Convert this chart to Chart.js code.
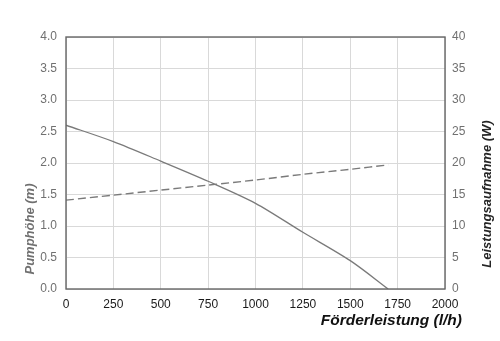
<!DOCTYPE html>
<html>
<head>
<meta charset="utf-8">
<script src="https://cdn.jsdelivr.net/npm/chart.js@4"></script>
<style>
  html, body { margin: 0; padding: 0; background: #ffffff; }
  #wrap { width: 500px; height: 341px; position: relative; }
</style>
</head>
<body>
<div id="wrap"><canvas id="c" width="500" height="341"></canvas></div>
<script>
// ---- data ----
const flowHead   = [0, 250, 500, 750, 1000, 1250, 1500, 1700];          // l/h
const headValues = [2.60, 2.34, 2.03, 1.71, 1.36, 0.90, 0.45, 0.00];     // m
const flowPower   = [0, 250, 500, 750, 1000, 1250, 1500, 1700];         // l/h
const powerValues = [14.1, 14.9, 15.7, 16.5, 17.3, 18.2, 19.0, 19.7];   // W

const xTitle = 'Förderleistung (l/h)';
const yTitle = 'Pumphöhe (m)';
const y1Title = 'Leistungsaufnahme (W)';

const xRange  = [0, 2000, 250];
const yRange  = [0, 4, 0.5];
const y1Range = [0, 40, 5];

const FONT = "'Liberation Sans', Arial, sans-serif";

const framePlugin = {
  id: 'frameAndTitles',
  afterDraw(chart) {
    const ctx = chart.ctx;
    const a = chart.chartArea;
    ctx.save();
    ctx.strokeStyle = '#666666';
    ctx.lineWidth = 1.4;
    ctx.strokeRect(a.left, a.top, a.right - a.left, a.bottom - a.top);

    ctx.font = "italic bold 13px " + FONT;
    ctx.textBaseline = 'middle';
    // left title
    ctx.save();
    ctx.translate(30, 229);
    ctx.rotate(-Math.PI / 2);
    ctx.textAlign = 'center';
    ctx.fillStyle = '#707070';
    ctx.fillText(yTitle, 0, 0);
    ctx.restore();
    // right title (reads bottom to top)
    ctx.save();
    ctx.translate(487, 194);
    ctx.rotate(-Math.PI / 2);
    ctx.textAlign = 'center';
    ctx.fillStyle = '#262626';
    ctx.fillText(y1Title, 0, 0);
    ctx.restore();
    // x title
    ctx.font = "italic bold 15.5px " + FONT;
    ctx.textAlign = 'right';
    ctx.fillStyle = '#111111';
    ctx.fillText(xTitle, 462, 321);
    ctx.restore();
  }
};

new Chart(document.getElementById('c'), {
  type: 'line',
  data: {
    datasets: [
      {
        label: yTitle,
        data: flowHead.map((x, i) => ({ x: x, y: headValues[i] })),
        yAxisID: 'y',
        borderColor: '#7a7a7a',
        borderWidth: 1.3,
        pointRadius: 0,
        fill: false,
        tension: 0.3
      },
      {
        label: y1Title,
        data: flowPower.map((x, i) => ({ x: x, y: powerValues[i] })),
        yAxisID: 'y1',
        borderColor: '#7a7a7a',
        borderWidth: 1.4,
        borderDash: [8, 4],
        pointRadius: 0,
        fill: false,
        tension: 0.3
      }
    ]
  },
  options: {
    responsive: false,
    animation: false,
    layout: { padding: { top: 37, left: 0, right: 0, bottom: 0 } },
    plugins: { legend: { display: false }, tooltip: { enabled: false } },
    scales: {
      x: {
        type: 'linear',
        min: xRange[0], max: xRange[1],
        afterFit(s) { s.height = 52; },
        grid: { color: '#d9d9d9', lineWidth: 1, drawTicks: false },
        border: { display: false },
        ticks: { stepSize: xRange[2], padding: 8, color: '#1a1a1a', font: { family: FONT, size: 12 },
                 callback: v => String(v) }
      },
      y: {
        position: 'left',
        min: yRange[0], max: yRange[1],
        afterFit(s) { s.width = 66; },
        grid: { color: '#d9d9d9', lineWidth: 1, drawTicks: false },
        border: { display: false },
        ticks: { stepSize: yRange[2], padding: 9, color: '#707070', font: { family: FONT, size: 12 },
                 callback: v => v.toFixed(1) }
      },
      y1: {
        position: 'right',
        min: y1Range[0], max: y1Range[1],
        afterFit(s) { s.width = 55; },
        grid: { display: false, drawTicks: false },
        border: { display: false },
        ticks: { stepSize: y1Range[2], padding: 7, color: '#707070', font: { family: FONT, size: 12 } }
      }
    }
  },
  plugins: [framePlugin]
});
</script>
</body>
</html>
